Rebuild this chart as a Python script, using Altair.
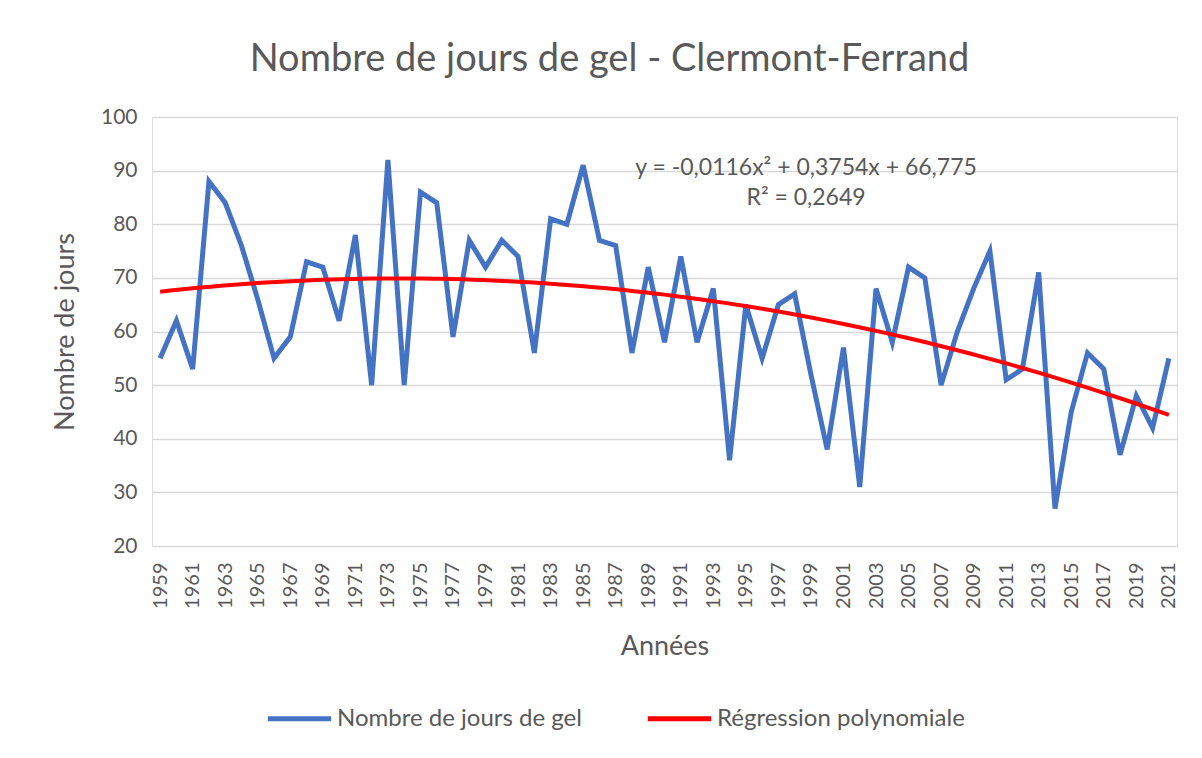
import altair as alt
import pandas as pd

YEARS = list(range(1959, 2022))
FROST_DAYS = [55, 62, 53, 88, 84, 76, 66, 55, 59, 73,
              72, 62, 78, 50, 92, 50, 86, 84, 59, 77,
              72, 77, 74, 56, 81, 80, 91, 77, 76, 56,
              72, 58, 74, 58, 68, 36, 65, 55, 65, 67,
              52, 38, 57, 31, 68, 58, 72, 70, 50, 60,
              68, 75, 51, 53, 71, 27, 45, 56, 53, 37,
              48, 42, 55]
TICK_YEARS = list(range(1959, 2022, 2))
SERIES = ["Nombre de jours de gel", "Régression polynomiale"]
COLORS = ["#4472C4", "#FF0000"]
EQ_TEXT = ["y = -0,0116x² + 0,3754x + 66,775", "R² = 0,2649"]
EQ_YEAR = [1998.7, 1998.7]
EQ_VAL = [90.5, 84.9]

FONT = "Lato"
GREY = "#595959"

df = pd.DataFrame({"year": YEARS, "val": FROST_DAYS})
eq = pd.DataFrame({"text": EQ_TEXT, "year": EQ_YEAR, "val": EQ_VAL})

x = alt.X("year:Q",
          scale=alt.Scale(domain=[1958.5, 2021.5], nice=False, zero=False),
          axis=alt.Axis(values=TICK_YEARS, format="d", labelAngle=270,
                        labelAlign="right", labelBaseline="middle",
                        grid=False, ticks=False, domain=False,
                        labelPadding=16, labelFontSize=20, labelColor=GREY,
                        labelFont=FONT, title="Années", titleFontSize=27,
                        titleColor=GREY, titleFont=FONT, titleFontWeight="normal",
                        titlePadding=25, labelOverlap=False, labelSeparation=0,
                        labelBound=False, labelFlush=False))
y = alt.Y("val:Q",
          scale=alt.Scale(domain=[20, 100], nice=False, zero=False),
          axis=alt.Axis(values=list(range(20, 101, 10)), grid=True,
                        gridColor="#D9D9D9", gridWidth=1.3, ticks=False,
                        domain=False, labelPadding=15, labelFontSize=21,
                        labelColor=GREY, labelFont=FONT, title="Nombre de jours",
                        titleFontSize=27, titleColor=GREY, titleFont=FONT,
                        titleFontWeight="normal", titleX=-87, titleY=214.5,
                        titleAngle=270, titleAlign="center", titleBaseline="middle"))

color = alt.Color("series:N",
                  scale=alt.Scale(domain=SERIES, range=COLORS),
                  legend=alt.Legend(title=None, orient="none", direction="horizontal",
                                    legendX=113, legendY=567,
                                    symbolType="stroke", symbolStrokeWidth=5,
                                    symbolSize=4000, labelFontSize=24,
                                    labelColor=GREY, labelFont=FONT, labelLimit=400,
                                    labelOffset=3, columnPadding=55))

base = alt.Chart(df)

raw = base.transform_calculate(series=f"'{SERIES[0]}'").mark_line(
    strokeWidth=5, strokeJoin="miter", strokeCap="butt"
).encode(x=x, y=y, color=color)

reg = base.transform_regression(
    "year", "val", method="poly", order=2
).transform_calculate(series=f"'{SERIES[1]}'").mark_line(
    strokeWidth=4
).encode(x=x, y=y, color=color)

txt = alt.Chart(eq).mark_text(fontSize=23, font=FONT, color=GREY,
                              align="center", baseline="middle").encode(
    x=x, y=y, text="text:N")

chart = alt.layer(raw, reg, txt).properties(
    width=1025, height=429,
    autosize=alt.AutoSizeParams(type="none"),
    padding={"left": 144, "top": 109, "right": 16, "bottom": 204},
    title=alt.Title("Nombre de jours de gel - Clermont-Ferrand",
                    fontSize=38, font=FONT, color=GREY, fontWeight="normal",
                    anchor="middle", dx=-55, offset=27)
).configure_view(stroke=None).configure(background="white")

chart.save("out.html", embed_options={"renderer": "svg", "actions": False})
